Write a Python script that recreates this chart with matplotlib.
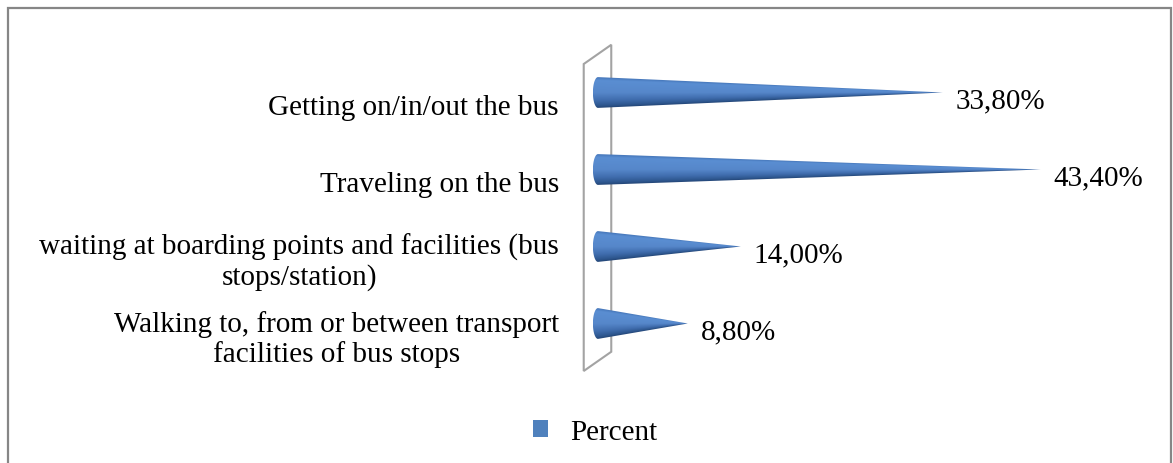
import numpy as np
import matplotlib
matplotlib.use('Agg')
import matplotlib.pyplot as plt
import matplotlib.patches as mpatches
import matplotlib.transforms as mtransforms
from matplotlib.colors import LinearSegmentedColormap

plt.rcParams['font.family'] = ['Liberation Serif', 'DejaVu Serif']

categories = ['Getting on/in/out the bus',
              'Traveling on the bus',
              'waiting at boarding points and facilities (bus\nstops/station)',
              'Walking to, from or between transport\nfacilities of bus stops']
percent = [33.8, 43.4, 14.0, 8.8]
value_labels = ['33,80%', '43,40%', '14,00%', '8,80%']
series_name = 'Percent'

W, H = 1173, 464
fig = plt.figure(figsize=(W / 100, H / 100), dpi=100)
fig.patch.set_facecolor('white')

# plot area: x=0 sits at pixel 598, about 10.2 px per percent
ax = fig.add_axes([547 / W, 1 - 363 / H, 612 / W, 308 / H])
ax.set_xlim(-5, 55)
ax.set_ylim(3.5, -0.5)
ax.axis('off')

# cone shading, top edge to underside
cone_cmap = LinearSegmentedColormap.from_list('cone', [
    (0.00, '#4677ba'),
    (0.10, '#5a8ed2'),
    (0.50, '#5687ca'),
    (0.75, '#406dae'),
    (0.92, '#2e578f'),
    (1.00, '#244677')])

half_h = 0.2      # cone radius in category units
base_a = 0.5      # base ellipse half width in percent units

# side wall of the 3d plot
wall_front, wall_back = -1.4, 1.3
wall_top, wall_bottom, wall_skew = -0.37, 3.617, 0.25
wall = [(wall_front, wall_top), (wall_back, wall_top - wall_skew),
        (wall_back, wall_bottom - wall_skew), (wall_front, wall_bottom)]
ax.add_patch(mpatches.Polygon(wall, closed=True, fill=False, clip_on=False,
                              edgecolor='#a3a3a3', linewidth=1.5, zorder=1))

for i, v in enumerate(percent):
    yc = i
    th = np.linspace(np.pi / 2, 3 * np.pi / 2, 40)
    pts = [(v, yc)] + [(base_a * np.cos(t), yc + half_h * np.sin(t)) for t in th]
    outline = mpatches.Polygon(pts, closed=True, facecolor='none',
                               edgecolor='none', transform=ax.transData)
    ax.add_patch(outline)

    xs = np.linspace(-base_a, v, 600)
    ys = np.linspace(yc - half_h, yc + half_h, 120)
    X, Y = np.meshgrid(xs, ys)
    r = np.where(X > 0, np.clip(1 - X / v, 0.02, 1), 1.0)
    t = np.clip((Y - yc) / (half_h * r), -1, 1)
    img = ax.imshow((t + 1) / 2, cmap=cone_cmap, vmin=0, vmax=1,
                    extent=(-base_a, v, yc + half_h, yc - half_h),
                    origin='upper', aspect='auto', interpolation='bilinear', zorder=2)
    img.set_clip_path(outline)

    ax.annotate(value_labels[i], xy=(v, yc), xytext=(13, -8), textcoords='offset pixels',
                ha='left', va='center', fontsize=21, color='black')

ax.set_xlim(-5, 55)
ax.set_ylim(3.5, -0.5)

label_tr = mtransforms.offset_copy(ax.transData, fig=fig, x=-39, y=-15, units='dots')
for i, cat in enumerate(categories):
    ax.text(0, i, cat, transform=label_tr, ha='right', va='center',
            multialignment='center', linespacing=1.15, fontsize=21, color='black')

handle = mpatches.Patch(facecolor='#4f81bd', edgecolor='none')
fig.legend([handle], [series_name], loc='center', bbox_to_anchor=(595 / W, 1 - 433 / H),
           frameon=False, fontsize=21, handlelength=0.52, handleheight=0.52,
           handletextpad=0.75, borderpad=0)

# chart border
fig.patches.append(mpatches.Rectangle((8 / W, -0.1), (1171 - 8) / W, 1.1 - 9 / H,
                                      transform=fig.transFigure, fill=False,
                                      edgecolor='#868686', linewidth=1.6))

fig.savefig('out.png', dpi=100)
